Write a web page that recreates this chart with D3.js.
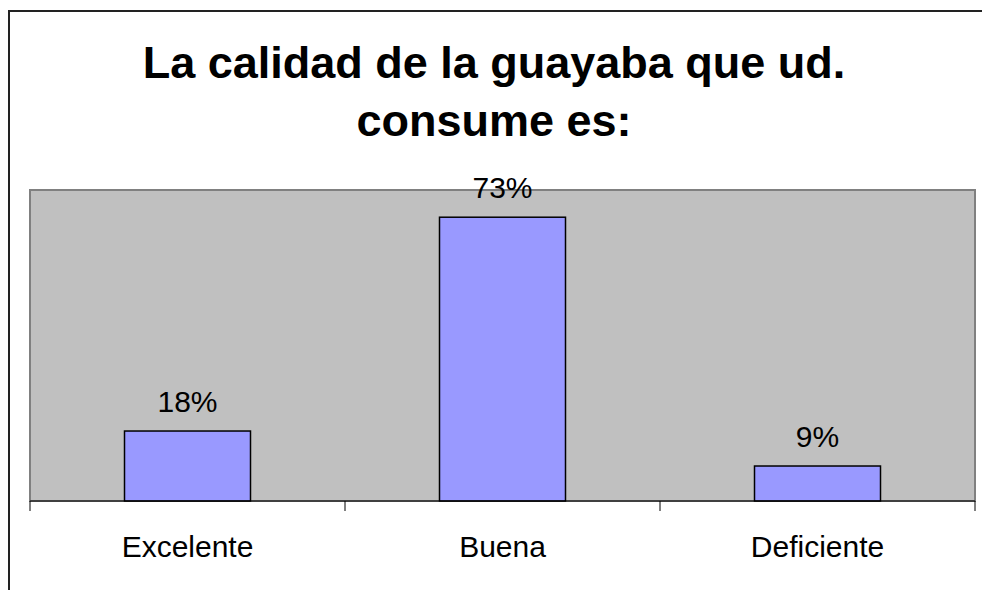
<!DOCTYPE html>
<html>
<head>
<meta charset="utf-8">
<script src="https://cdn.jsdelivr.net/npm/d3@7"></script>
<style>
  body { margin: 0; background: #fff; overflow: hidden; }
  svg { display: block; font-family: "Liberation Sans", Arial, sans-serif; }
</style>
</head>
<body>
<div id="chart"><svg></svg></div>
<script>
var titleLines = ["La calidad de la guayaba que ud.", "consume es:"];
var categories = ["Excelente", "Buena", "Deficiente"];
var values = [0.18, 0.73, 0.09];
var labels = ["18%", "73%", "9%"];

var W = 982, H = 590;
var margin = { top: 190, right: 7, bottom: 89, left: 30 };
var width = W - margin.left - margin.right;
var height = H - margin.top - margin.bottom;

var svg = d3.select("#chart svg").
  attr("width", W).
  attr("height", H);

// outer chart border: only the left and top edges fall inside the page
svg.append("path").
  attr("d", d3.line()([[9, H + 5], [9, 11], [W + 5, 11]])).
  attr("fill", "none").
  attr("stroke", "#222").
  attr("stroke-width", 2);

svg.append("text").
  attr("x", W / 2).
  attr("text-anchor", "middle").
  attr("font-size", "45px").
  attr("font-weight", "bold").
  selectAll("tspan").
  data(titleLines).
  enter().append("tspan").
  attr("x", W / 2 + 3).
  attr("y", function(d, i) { return 78 + i * 58; }).
  text(function(d) { return d; });

var g = svg.append("g").
  attr("transform", "translate(" + margin.left + "," + margin.top + ")");

var x = d3.scaleBand().
  domain(categories).
  range([0, width]).
  paddingInner(0.6).
  paddingOuter(0.3);

var xb = d3.scaleBand().
  domain(categories).
  range([0, width]);

var y = d3.scaleLinear().
  domain([0, 0.8]).
  range([height, 0]);

g.append("rect").
  attr("width", width).
  attr("height", height).
  attr("fill", "#c0c0c0").
  attr("stroke", "#808080").
  attr("stroke-width", 2);

g.selectAll(".bar").
  data(values).
  enter().append("rect").
  attr("class", "bar").
  attr("x", function(d, i) { return x(categories[i]); }).
  attr("y", function(d) { return y(d); }).
  attr("width", x.bandwidth()).
  attr("height", function(d) { return height - y(d); }).
  attr("fill", "#9999ff").
  attr("stroke", "#000").
  attr("stroke-width", 1.5);

g.selectAll(".lbl").
  data(values).
  enter().append("text").
  attr("class", "lbl").
  attr("x", function(d, i) { return x(categories[i]) + x.bandwidth() / 2; }).
  attr("y", function(d) { return y(d) - 19; }).
  attr("text-anchor", "middle").
  attr("font-size", "30px").
  attr("fill", "#000").
  text(function(d, i) { return labels[i]; });

// axis line with ticks at the category boundaries
g.append("line").
  attr("x1", 0).attr("x2", width).
  attr("y1", height).attr("y2", height).
  attr("stroke", "#000").
  attr("stroke-width", 1);

var bounds = categories.map(function(c) { return xb(c); }).concat([width]);
g.selectAll(".tick").
  data(bounds).
  enter().append("line").
  attr("class", "tick").
  attr("x1", function(d) { return d; }).
  attr("x2", function(d) { return d; }).
  attr("y1", height).
  attr("y2", height + 10).
  attr("stroke", "#000").
  attr("stroke-width", 1);

g.selectAll(".cat").
  data(categories).
  enter().append("text").
  attr("class", "cat").
  attr("x", function(d) { return xb(d) + xb.bandwidth() / 2; }).
  attr("y", height + 56).
  attr("text-anchor", "middle").
  attr("font-size", "30px").
  attr("fill", "#000").
  text(function(d) { return d; });
</script>
</body>
</html>
